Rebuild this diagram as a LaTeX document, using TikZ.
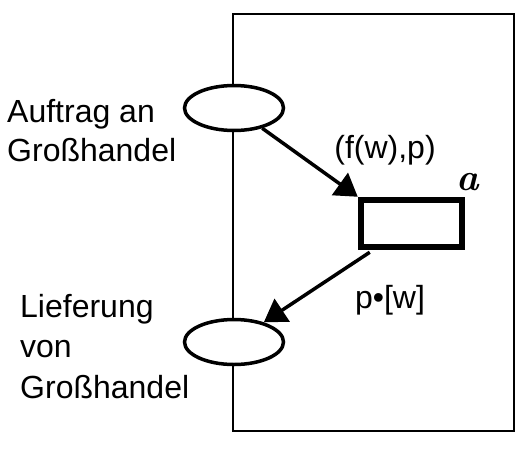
\documentclass[tikz,border=0pt]{standalone}
\usepackage{fontspec}
\setmainfont{Liberation Sans}
\newfontfamily\lmfont{Latin Modern Roman}
\usetikzlibrary{shapes.geometric,arrows.meta}
\begin{document}
\begin{tikzpicture}[x=1pt,y=-1pt,
  place/.style={draw,ellipse,fill=white,line width=3.5pt,minimum width=99pt,minimum height=45pt,inner sep=0pt},
  trans/.style={draw,rectangle,line width=6.5pt,minimum width=101pt,minimum height=47pt,inner sep=0pt},
  arc/.style={line width=3.5pt,-{Triangle[length=22pt,width=27pt]}},
  lbl/.style={font=\fontsize{32}{39}\selectfont,inner sep=0pt},
  frame/.style={line width=2pt}]
\useasboundingbox (0,0) rectangle (518,453);
\draw[frame] (233,14) rectangle (514,431);
\node[place] (p1) at (234,108) {};
\node[place] (p2) at (234,342) {};
\node[trans] (t) at (411.5,223.5) {};
\node[inner sep=0pt,font=\fontsize{38}{40}\selectfont\lmfont\bfseries\itshape] (ta) at (467.5,182) {a};
\coordinate (tout) at ([xshift=12pt,yshift=-2pt]t.south west);
\draw[arc] (p1) -- (t.north west);
\draw[arc] (tout) -- (p2);
\node[lbl,anchor=base] (l1) at (385,158) {(f(w),p)};
\node[lbl,anchor=base] (l2) at (390,308) {p•[w]};
\node[lbl,anchor=base west,align=left] (n1) at (7,161) {Auftrag an\\Großhandel};
\node[lbl,anchor=base west,align=left,font=\fontsize{32}{40.5}\selectfont] (n2) at (20,398) {Lieferung\\von\\Großhandel};
\end{tikzpicture}
\end{document}
